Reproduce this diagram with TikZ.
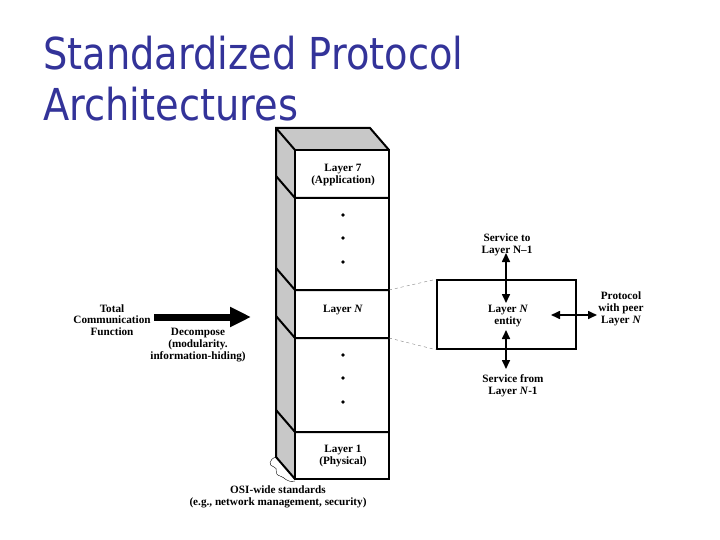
\documentclass[tikz,border=0pt]{standalone}
\usepackage{fontspec}
\setmainfont{Liberation Serif}
\newfontfamily\titlefont{DejaVu Sans}
\usetikzlibrary{arrows.meta}
\definecolor{titleblue}{RGB}{51,51,153}
\definecolor{sidegray}{RGB}{200,200,200}
\begin{document}
\begin{tikzpicture}[x=1pt,y=-1pt,
  lbl/.style={font=\fontsize{11.2}{11.8}\selectfont\bfseries, align=center, inner sep=0pt},
  heavy/.style={line width=2pt},
  darrow/.style={line width=1.6pt, {Triangle[length=9pt,width=8pt]}-{Triangle[length=9pt,width=8pt]}},
  dot/.style={circle, fill=black, inner sep=0pt, minimum size=3.6pt}]
\useasboundingbox (0,0) rectangle (720,540);
% title
\node[anchor=base west, inner sep=0pt, text=titleblue, font=\titlefont\fontsize{44}{51}\selectfont] (t1) at (43,70) {\scalebox{0.872}[1]{Standardized Protocol}};
\node[anchor=base west, inner sep=0pt, text=titleblue, font=\titlefont\fontsize{44}{51}\selectfont] (t2) at (43,121) {\scalebox{0.872}[1]{Architectures}};
% stack
\fill[sidegray] (276,128) -- (370,128) -- (389,150) -- (295,150) -- cycle;
\fill[sidegray] (276,128) -- (295,150) -- (295,479) -- (276,457) -- cycle;
\draw[heavy, line join=miter] (295,479) -- (276,457) -- (276,128) -- (370,128) -- (389,150);
\draw[heavy] (276,128) -- (295,150);
\draw[heavy, fill=white] (295,150) rectangle (389,479);
\foreach \yy in {198,290,338,432} {
  \draw[heavy] (276,\yy-22) -- (295,\yy) -- (389,\yy);
}
\node[lbl] (l7) at (343,175) {Layer 7\\(Application)};
\node[dot] (d1) at (343,215) {};
\node[dot] (d2) at (343,238) {};
\node[dot] (d3) at (343,262) {};
\node[lbl] (ln) at (343,310) {Layer \textit{N}};
\node[dot] (d4) at (343,355) {};
\node[dot] (d5) at (343,378) {};
\node[dot] (d6) at (343,402) {};
\node[lbl] (l1) at (343,456) {Layer 1\\(Physical)};
\coordinate (nt) at (389,290);
\coordinate (nb) at (389,338);
% entity
\node[draw, line width=1.5pt, minimum width=139pt, minimum height=69pt, inner sep=0pt] (ent) at (506.5,314.5) {};
\node[lbl] (entl) at (508,316) {Layer \textit{N}\\entity};
\draw[gray, dashed, thin] (nt) -- (ent.north west);
\draw[gray, dashed, thin] (nb) -- (ent.south west);
\node[lbl] (st) at (507,245) {Service to\\Layer N--1};
\node[lbl] (sf) at (513,386) {Service from\\Layer \textit{N}-1};
\node[lbl] (pr) at (621,309) {Protocol\\with peer\\Layer \textit{N}};
\coordinate (a1) at (506,253);
\coordinate (a2) at (506,303);
\coordinate (a3) at (506,330);
\coordinate (a4) at (506,369);
\coordinate (a5) at (551,315);
\coordinate (a6) at (597,315);
\draw[darrow] (a1) -- (a2);
\draw[darrow] (a3) -- (a4);
\draw[darrow] (a5) -- (a6);
% left
\node[lbl] (tcf) at (112,320) {Total\\Communication\\Function};
\node[lbl] (dec) at (198,345) {Decompose\\(modularity.\\information-hiding)};
\coordinate (b1) at (154,317);
\coordinate (b2) at (251,317);
\draw[line width=7pt, -{Triangle[length=21pt,width=19pt]}] (b1) -- (b2);
% bottom
\node[lbl] (osi) at (278,497) {OSI-wide standards\\(e.g., network management, security)};
\draw[thin] (276,457) .. controls (269,459) and (268,466) .. (274,467)
  .. controls (279,468) and (273,474) .. (280,476)
  .. controls (285,477) and (286,483) .. (295,481);
\end{tikzpicture}
\end{document}
